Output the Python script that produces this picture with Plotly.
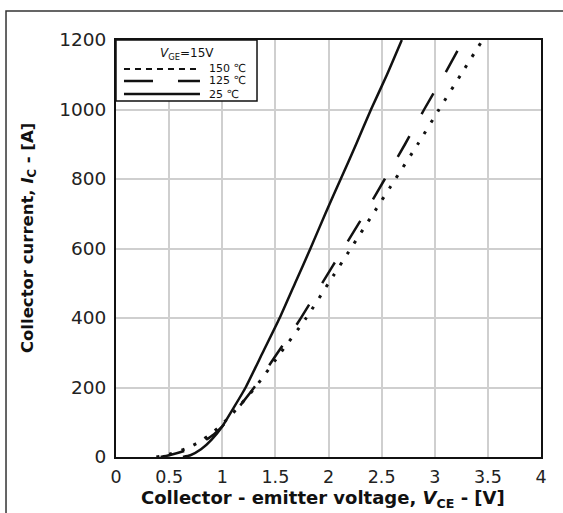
import plotly.graph_objects as go

# Output characteristics I_C = f(V_CE) at V_GE = 15 V
v_25 = [0.63, 0.70, 0.80, 0.90, 1.00, 1.10, 1.22, 1.38, 1.54, 1.685, 1.83, 1.97, 2.115, 2.26, 2.40, 2.55, 2.69]
i_25 = [0, 5, 22, 50, 88, 138, 200, 300, 400, 500, 600, 700, 800, 900, 1000, 1100, 1200]

v_125 = [0.42, 0.50, 0.65, 0.80, 0.92, 1.00, 1.10, 1.30, 1.51, 1.73, 1.94, 2.14, 2.34, 2.53, 2.72, 2.90, 3.09, 3.27]
i_125 = [0, 5, 18, 40, 65, 88, 122, 200, 295, 395, 500, 600, 700, 800, 900, 1000, 1100, 1200]

v_150 = [0.38, 0.50, 0.65, 0.77, 0.90, 1.00, 1.10, 1.31, 1.55, 1.79, 2.00, 2.21, 2.42, 2.63, 2.84, 3.04, 3.245, 3.45]
i_150 = [0, 8, 23, 41, 68, 95, 126, 200, 300, 400, 500, 600, 700, 800, 900, 1000, 1100, 1200]

x_ticks = [0, 0.5, 1, 1.5, 2, 2.5, 3, 3.5, 4]
x_tick_text = ["0", "0.5", "1", "1.5", "2", "2.5", "3", "3.5", "4"]
y_ticks = [0, 200, 400, 600, 800, 1000, 1200]
y_tick_text = ["0", "200", "400", "600", "800", "1000", "1200"]

legend_labels = ["150 \u2103", "125 \u2103", "25 \u2103"]

FONT = "DejaVu Sans"
INK = "#111111"

fig = go.Figure()
fig.add_trace(go.Scatter(x=v_150, y=i_150, mode="lines", line=dict(color=INK, width=3, dash="3px,10px", shape="spline", smoothing=0.5), showlegend=False))
fig.add_trace(go.Scatter(x=v_125, y=i_125, mode="lines", line=dict(color=INK, width=2.5, dash="24px,25px", shape="spline", smoothing=0.5), showlegend=False))
fig.add_trace(go.Scatter(x=v_25, y=i_25, mode="lines", line=dict(color=INK, width=2.5, shape="spline", smoothing=0.5), showlegend=False))

# page frame and the hand-drawn legend box
shapes = [
    dict(type="rect", xref="paper", yref="paper", x0=-0.2588, y0=-0.35, x1=1.2, y1=1.0695,
         line=dict(color="#333333", width=1.5), fillcolor="rgba(0,0,0,0)", layer="below"),
    dict(type="rect", xref="paper", yref="paper", x0=0.0, y0=0.854, x1=0.3318, y1=1.0,
         line=dict(color=INK, width=1.5), fillcolor="white", layer="above"),
]
sample_y = [0.9305, 0.9017, 0.8705]
sample_dash = ["6px,5px", "29px,25px", "solid"]
sample_w = [2, 2.5, 2.5]
for yy, dd, ww in zip(sample_y, sample_dash, sample_w):
    shapes.append(dict(type="line", xref="paper", yref="paper", x0=0.0188, x1=0.1976, y0=yy, y1=yy,
                       line=dict(color=INK, width=ww, dash=dd), layer="above"))

annotations = [
    dict(text="<i>V</i><sub>GE</sub>=15V", xref="paper", yref="paper", x=0.168, y=0.966,
         xanchor="center", yanchor="middle", showarrow=False, font=dict(family=FONT, size=12, color=INK)),
    dict(text="<b>Collector - emitter voltage, <i>V</i><sub>CE</sub> - [V]</b>", xref="paper", yref="paper",
         x=0.486, y=-0.1, xanchor="center", yanchor="middle", showarrow=False,
         font=dict(family=FONT, size=18, color=INK)),
    dict(text="<b>Collector current, <i>I</i><sub>C</sub> - [A]</b>", xref="paper", yref="paper",
         x=-0.207, y=0.525, xanchor="center", yanchor="middle", textangle=-90, showarrow=False,
         font=dict(family=FONT, size=16.5, color=INK)),
]
for yy, lab in zip(sample_y, legend_labels):
    annotations.append(dict(text=lab, xref="paper", yref="paper", x=0.2165, y=yy, xanchor="left",
                            yanchor="middle", showarrow=False, borderpad=0,
                            font=dict(family=FONT, size=11, color=INK)))

fig.update_layout(
    width=563, height=513,
    margin=dict(l=116, r=22, t=40, b=56),
    paper_bgcolor="white", plot_bgcolor="white",
    shapes=shapes, annotations=annotations,
    xaxis=dict(range=[0, 4], tickvals=x_ticks, ticktext=x_tick_text, showgrid=True, gridcolor="#cfcfcf",
               gridwidth=1.5, zeroline=False, showline=True, mirror=True, linecolor=INK, linewidth=2,
               ticks="", ticklabelstandoff=3, tickfont=dict(family=FONT, size=17.5, color="#222222")),
    yaxis=dict(range=[0, 1200], tickvals=y_ticks, ticktext=y_tick_text, showgrid=True, gridcolor="#cfcfcf",
               gridwidth=1.5, zeroline=False, showline=True, mirror=True, linecolor=INK, linewidth=2,
               ticks="", ticklabelstandoff=4, tickfont=dict(family=FONT, size=18.5, color="#222222")),
)

fig.write_html("out.html")
